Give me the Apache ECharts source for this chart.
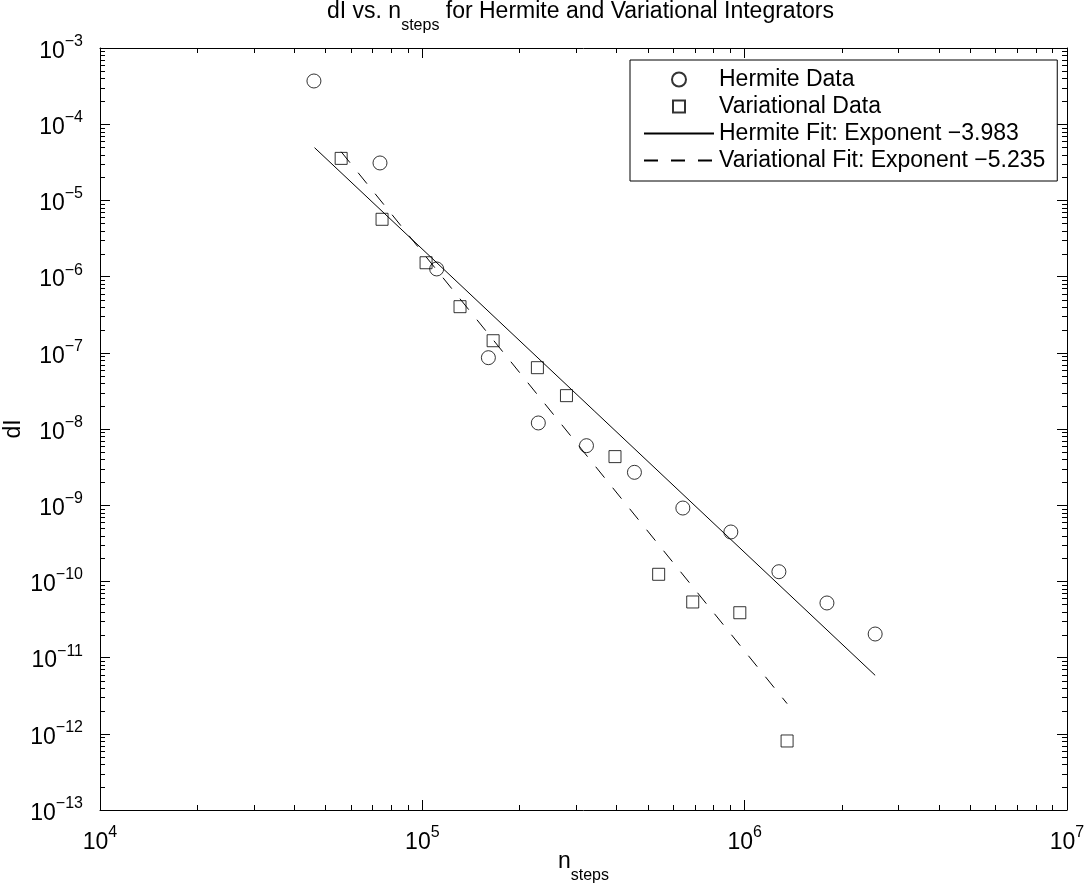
<!DOCTYPE html>
<html>
<head>
<meta charset="utf-8">
<title>dI vs. n_steps</title>
<script src="https://cdn.jsdelivr.net/npm/echarts@6/dist/echarts.min.js"></script>
<style>
  html, body { margin: 0; padding: 0; background: #fff; }
  #chart { width: 1089px; height: 888px; }
</style>
</head>
<body>
<div id="chart"></div>
<script>
// Hermite integrator: steps vs energy error
const hermiteSteps = [46100, 73900, 110800, 160300, 229000, 323000, 455000, 643000, 906000, 1277000, 1800000, 2540000]
const hermiteDI = [3.69e-4, 3.10e-5, 1.26e-6, 8.63e-8, 1.20e-8, 6.04e-9, 2.70e-9, 9.18e-10, 4.45e-10, 1.34e-10, 5.21e-11, 2.04e-11]

// Variational integrator
const variationalSteps = [56000, 75000, 102700, 130900, 165800, 227500, 280000, 396000, 541000, 690000, 966000, 1354000]
const variationalDI = [3.56e-5, 5.65e-6, 1.52e-6, 4.03e-7, 1.44e-7, 6.38e-8, 2.74e-8, 4.34e-9, 1.24e-10, 5.37e-11, 3.88e-11, 8.05e-13]

// power-law fits (end points)
const hermiteFitSteps = [46300, 2540000]
const hermiteFitDI = [4.92e-5, 5.85e-12]
const variationalFitSteps = [56000, 1354000]
const variationalFitDI = [4.35e-5, 2.49e-12]

// axes: decades shown and the minor ticks inside each decade
const xDecades = [1e4, 1e5, 1e6, 1e7]
const yDecades = [1e-13, 1e-12, 1e-11, 1e-10, 1e-9, 1e-8, 1e-7, 1e-6, 1e-5, 1e-4, 1e-3]
const minorSteps = [2, 3, 4, 5, 6, 7, 8, 9]

const seriesNames = [
  'Hermite Data',
  'Variational Data',
  'Hermite Fit: Exponent \u22123.983',
  'Variational Fit: Exponent \u22125.235'
]

const FONT = "'Liberation Sans', Arial, Helvetica, sans-serif"
const xMin = xDecades[0], xMax = xDecades[xDecades.length - 1]
const yMin = yDecades[0], yMax = yDecades[yDecades.length - 1]

const minorOf = (decades) => {
  const out = []
  decades.slice(0, -1).forEach(d => minorSteps.forEach(m => out.push(d * m)))
  return out
}
const xMinor = minorOf(xDecades)
const yMinor = minorOf(yDecades)

const pairs = (xs, ys) => xs.map((x, i) => [x, ys[i]])

// 10^n label with superscript (tokens all middle aligned, shifted by padding)
const supRich = {
  b: { fontSize: 23, lineHeight: 22, padding: [7, 0, 0, 0], verticalAlign: 'middle', fontFamily: FONT, color: '#000' },
  s: { fontSize: 16, lineHeight: 16, padding: [0, 0, 13, 0], verticalAlign: 'middle', fontFamily: FONT, color: '#000' }
}
const powLabel = (value) => {
  const e = Math.round(Math.log10(value))
  return '{b|10}{s|' + String(e).replace('-', '\u2212') + '}'
}
// n_steps with subscript
const subRich = {
  a: { fontSize: 23, lineHeight: 22, padding: [0, 0, 14, 0], verticalAlign: 'middle', fontFamily: FONT, color: '#000' },
  u: { fontSize: 16, lineHeight: 16, padding: [14, 0, 0, 0], verticalAlign: 'middle', fontFamily: FONT, color: '#000' }
}

const black = '#000'
const baseAxis = {
  type: 'log',
  logBase: 10,
  interval: 1,
  axisLine: { show: true, lineStyle: { color: black, width: 1 } },
  axisTick: { show: true, inside: true, length: 10, lineStyle: { color: black, width: 1 } },
  splitLine: { show: false },
  minorTick: { show: false },
  minorSplitLine: { show: false }
}

const tickLine = (x1, y1, x2, y2) => ({
  type: 'line',
  shape: { x1, y1, x2, y2 },
  style: { stroke: black, lineWidth: 1 }
})

const chart = echarts.init(document.getElementById('chart'))
chart.setOption({
  animation: false,
  backgroundColor: '#fff',
  textStyle: { fontFamily: FONT, color: black },
  title: {
    text: '{a|dI vs. n}{u|steps}{a| for Hermite and Variational Integrators}',
    left: 327,
    top: 8,
    padding: 0,
    textStyle: { rich: subRich, fontFamily: FONT, color: black, fontWeight: 'normal' }
  },
  grid: { left: 100, right: 22, top: 48, bottom: 78, containLabel: false, outerBoundsMode: 'none' },
  legend: {
    left: 630,
    top: 60,
    orient: 'vertical',
    selectedMode: false,
    backgroundColor: '#fff',
    borderColor: black,
    borderWidth: 1,
    padding: [8, 12, 9, 13],
    itemWidth: 70,
    itemHeight: 14,
    itemGap: 4,
    textStyle: { fontSize: 23, lineHeight: 22, fontFamily: FONT, color: black },
    data: [
      { name: seriesNames[0] },
      { name: seriesNames[1], icon: 'path://M0,0M14,14M1,1L13,1L13,13L1,13Z' },
      { name: seriesNames[2], itemStyle: { opacity: 0 } },
      { name: seriesNames[3], itemStyle: { opacity: 0 } }
    ]
  },
  xAxis: [
    Object.assign({}, baseAxis, {
      min: xMin, max: xMax,
      position: 'bottom',
      name: '{a|n}{u|steps}',
      nameLocation: 'middle',
      nameGap: 48,
      nameMoveOverlap: false,
      nameTextStyle: { rich: subRich, fontFamily: FONT, color: black },
      axisLabel: { formatter: powLabel, margin: 18, rich: supRich }
    }),
    Object.assign({}, baseAxis, {
      min: xMin, max: xMax,
      position: 'top',
      axisLabel: { show: false }
    })
  ],
  yAxis: [
    Object.assign({}, baseAxis, {
      min: yMin, max: yMax,
      position: 'left',
      name: 'dI',
      nameLocation: 'middle',
      nameRotate: 90,
      nameGap: 75,
      nameMoveOverlap: false,
      nameTextStyle: { fontSize: 23, fontFamily: FONT, color: black },
      axisLabel: { formatter: powLabel, margin: 17, rich: supRich }
    }),
    Object.assign({}, baseAxis, {
      min: yMin, max: yMax,
      position: 'right',
      axisLabel: { show: false }
    })
  ],
  series: [
    {
      name: seriesNames[0],
      type: 'scatter',
      data: pairs(hermiteSteps, hermiteDI),
      symbol: 'circle',
      symbolSize: 14,
      itemStyle: { color: 'rgba(0,0,0,0)', borderColor: black, borderWidth: 1 },
      emphasis: { disabled: true },
      z: 3
    },
    {
      name: seriesNames[1],
      type: 'scatter',
      data: pairs(variationalSteps, variationalDI),
      symbol: 'rect',
      symbolSize: 12,
      itemStyle: { color: 'rgba(0,0,0,0)', borderColor: black, borderWidth: 1 },
      emphasis: { disabled: true },
      z: 3
    },
    {
      name: seriesNames[2],
      type: 'line',
      data: pairs(hermiteFitSteps, hermiteFitDI),
      symbol: 'none',
      itemStyle: { color: black },
      lineStyle: { color: black, width: 1 },
      emphasis: { disabled: true }
    },
    {
      name: seriesNames[3],
      type: 'line',
      data: pairs(variationalFitSteps, variationalFitDI),
      symbol: 'none',
      itemStyle: { color: black },
      lineStyle: { color: black, width: 1, type: [14, 13] },
      emphasis: { disabled: true }
    },
    // minor ticks on bottom/top axes
    {
      type: 'custom',
      silent: true,
      clip: false,
      data: xMinor.map(v => [v, yMin]),
      renderItem: (params, api) => {
        const v = api.value(0)
        const b = api.coord([v, yMin])
        const t = api.coord([v, yMax])
        const x = Math.round(b[0]) + 0.5
        return {
          type: 'group',
          children: [tickLine(x, b[1], x, b[1] - 5), tickLine(x, t[1], x, t[1] + 5)]
        }
      }
    },
    // minor ticks on left/right axes
    {
      type: 'custom',
      silent: true,
      clip: false,
      data: yMinor.map(v => [xMin, v]),
      renderItem: (params, api) => {
        const v = api.value(1)
        const l = api.coord([xMin, v])
        const r = api.coord([xMax, v])
        const y = Math.round(l[1]) + 0.5
        return {
          type: 'group',
          children: [tickLine(l[0], y, l[0] + 5, y), tickLine(r[0], y, r[0] - 5, y)]
        }
      }
    }
  ]
})
</script>
</body>
</html>
